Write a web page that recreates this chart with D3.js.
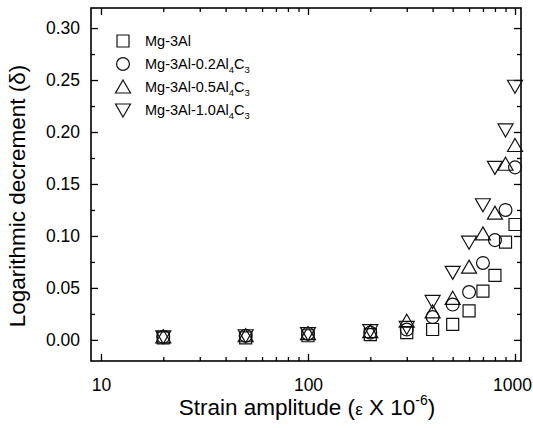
<!DOCTYPE html>
<html>
<head>
<meta charset="utf-8">
<script src="https://cdn.jsdelivr.net/npm/d3@7"></script>
<style>
  body { margin: 0; background: #fff; }
  text { font-family: "Liberation Sans", Arial, sans-serif; }
</style>
</head>
<body>
<div id="chart"></div>
<script>
// data
var strain = [20, 50, 100, 200, 300, 400, 500, 600, 700, 800, 900, 1000];
var mg3al  = [0.002, 0.002, 0.004, 0.005, 0.007, 0.010, 0.015, 0.028, 0.047, 0.062, 0.094, 0.111];
var al02   = [0.003, 0.004, 0.006, 0.007, 0.010, 0.022, 0.034, 0.046, 0.074, 0.096, 0.125, 0.166];
var al05   = [0.003, 0.004, 0.006, 0.008, 0.018, 0.027, 0.040, 0.070, 0.102, 0.122, 0.169, 0.187];
var al10   = [0.003, 0.004, 0.006, 0.009, 0.012, 0.037, 0.065, 0.094, 0.130, 0.166, 0.202, 0.244];
var yTicks = [0, 0.05, 0.10, 0.15, 0.20, 0.25, 0.30];
var xTicks = [10, 100, 1000];

var series = [
  { name: "Mg-3Al", sub: null, values: mg3al, shape: "square" },
  { name: "Mg-3Al-0.2Al", sub: "0.2", values: al02, shape: "circle" },
  { name: "Mg-3Al-0.5Al", sub: "0.5", values: al05, shape: "up" },
  { name: "Mg-3Al-1.0Al", sub: "1.0", values: al10, shape: "down" }
];

var W = 533, H = 428;
var pLeft = 91, pRight = 521, pTop = 8, pBottom = 361;

var svg = d3.select("#chart").append("svg")
  .attr("width", W).attr("height", H);

var x = d3.scaleLog().domain([8.95, 1069]).range([pLeft, pRight]);
var y = d3.scaleLinear().domain([-0.0203, 0.3193]).range([pBottom, pTop]);

// minor ticks
var xMinor = [];
[10, 100].forEach(function (d) { for (var k = 2; k <= 9; k++) xMinor.push(d * k); });
var yMinor = d3.range(0.025, 0.32, 0.05);

function tickAxis(g, axis) {
  g.call(axis);
  g.select(".domain").remove();
  g.selectAll(".tick line").attr("stroke", "#000").attr("stroke-width", 1.3);
}

// bottom
svg.append("g").attr("transform", "translate(0," + pBottom + ")")
  .call(function (g) { tickAxis(g, d3.axisBottom(x).tickValues(xTicks).tickSize(-7).tickFormat(d3.format("d"))); })
  .call(function (g) {
    g.selectAll(".tick text").attr("dy", 0).attr("y", 30).attr("font-size", 17.5).attr("fill", "#000")
      .attr("dx", function (d) { return d === 1000 ? -3 : 0; });
  });
svg.append("g").attr("transform", "translate(0," + pBottom + ")")
  .call(function (g) { tickAxis(g, d3.axisBottom(x).tickValues(xMinor).tickSize(-4).tickFormat("")); });
// top
svg.append("g").attr("transform", "translate(0," + pTop + ")")
  .call(function (g) { tickAxis(g, d3.axisTop(x).tickValues(xTicks).tickSize(-7).tickFormat("")); });
svg.append("g").attr("transform", "translate(0," + pTop + ")")
  .call(function (g) { tickAxis(g, d3.axisTop(x).tickValues(xMinor).tickSize(-4).tickFormat("")); });
// left
svg.append("g").attr("transform", "translate(" + pLeft + ",0)")
  .call(function (g) { tickAxis(g, d3.axisLeft(y).tickValues(yTicks).tickSize(-7).tickFormat(d3.format(".2f"))); })
  .call(function (g) { g.selectAll(".tick text").attr("x", -11).attr("font-size", 17.5).attr("fill", "#000"); });
svg.append("g").attr("transform", "translate(" + pLeft + ",0)")
  .call(function (g) { tickAxis(g, d3.axisLeft(y).tickValues(yMinor).tickSize(-4).tickFormat("")); });
// right
svg.append("g").attr("transform", "translate(" + pRight + ",0)")
  .call(function (g) { tickAxis(g, d3.axisRight(y).tickValues(yTicks).tickSize(-7).tickFormat("")); });
svg.append("g").attr("transform", "translate(" + pRight + ",0)")
  .call(function (g) { tickAxis(g, d3.axisRight(y).tickValues(yMinor).tickSize(-4).tickFormat("")); });

// frame
svg.append("rect")
  .attr("x", pLeft).attr("y", pTop)
  .attr("width", pRight - pLeft).attr("height", pBottom - pTop)
  .attr("fill", "none").attr("stroke", "#000").attr("stroke-width", 1.6);

// marker shapes
function marker(shape) {
  if (shape === "square") return "M-6,-6H6V6H-6Z";
  if (shape === "circle") return d3.symbol(d3.symbolCircle, 130)();
  if (shape === "up") return "M0,-7L7.5,6H-7.5Z";
  return "M0,7L7.5,-6H-7.5Z";
}

series.forEach(function (s) {
  svg.append("g").selectAll("path")
    .data(strain.map(function (d, i) { return [d, s.values[i]]; }))
    .join("path")
    .attr("transform", function (d) { return "translate(" + x(d[0]) + "," + y(d[1]) + ")"; })
    .attr("d", marker(s.shape))
    .attr("fill", "none")
    .attr("stroke", "#111")
    .attr("stroke-width", 1.2);
});

// legend
var lg = svg.append("g");
series.forEach(function (s, i) {
  var ly = 41 + i * 23;
  lg.append("path")
    .attr("transform", "translate(123," + ly + ")")
    .attr("d", marker(s.shape))
    .attr("fill", "none").attr("stroke", "#111").attr("stroke-width", 1.2);
  var t = lg.append("text").attr("x", 145).attr("y", ly + 5).attr("font-size", 14.5).attr("fill", "#000");
  t.append("tspan").text(s.name);
  if (s.sub) {
    t.append("tspan").attr("font-size", 9.5).attr("dy", 4).text("4");
    t.append("tspan").attr("dy", -4).text("C");
    t.append("tspan").attr("font-size", 9.5).attr("dy", 4).text("3");
  }
});

// axis titles
svg.append("text")
  .attr("transform", "translate(25,196) rotate(-90)")
  .attr("text-anchor", "middle").attr("font-size", 22.5).attr("fill", "#000")
  .text("Logarithmic decrement (\u03b4)");

var xt = svg.append("text")
  .attr("x", 307).attr("y", 415)
  .attr("text-anchor", "middle").attr("font-size", 22.5).attr("fill", "#000");
xt.append("tspan").text("Strain amplitude (");
xt.append("tspan").attr("font-size", 17).text("\u03b5");
xt.append("tspan").text(" X 10");
xt.append("tspan").attr("font-size", 14).attr("dy", -10).text("-6");
xt.append("tspan").attr("dy", 10).text(")");
</script>
</body>
</html>
